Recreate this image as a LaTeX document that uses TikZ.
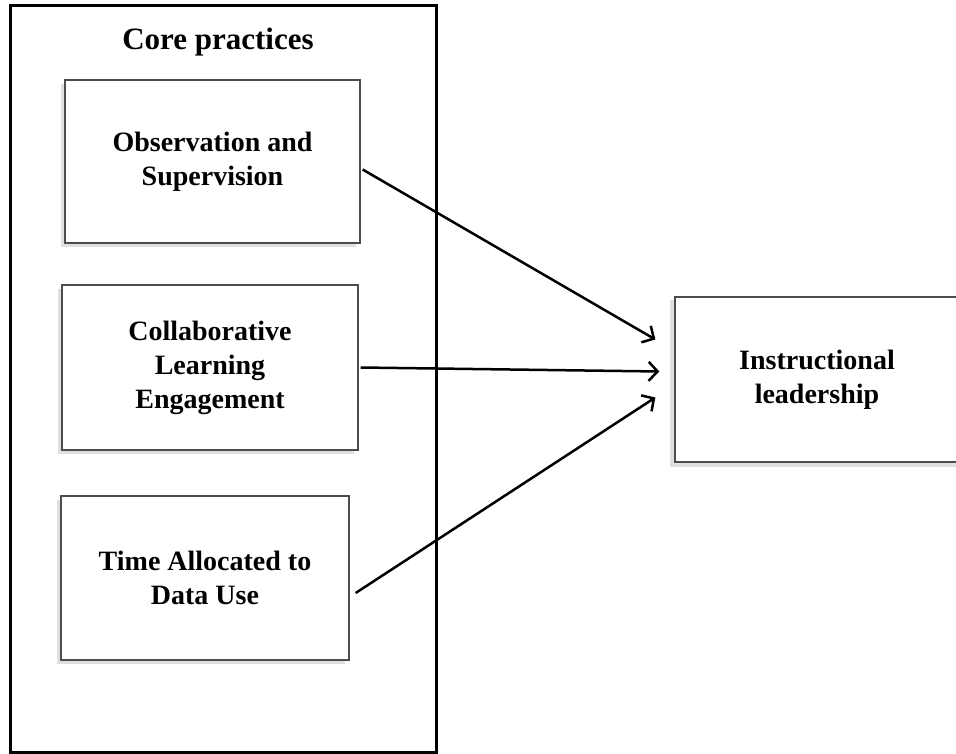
\documentclass[tikz,border=0pt]{standalone}
\usepackage{fontspec}
\setmainfont{Liberation Serif}
\usetikzlibrary{arrows.meta,shadows,backgrounds}
\begin{document}
\begin{tikzpicture}[x=1pt,y=-1pt,
  boxbase/.style={draw=black!70,line width=1.3pt,fill=white,rectangle,inner sep=0pt,
    align=center,font=\bfseries\fontsize{28}{34}\selectfont},
  inbox/.style={boxbase,
    drop shadow={shadow xshift=-4pt,shadow yshift=-4pt,opacity=0.12,fill=black}},
  shade/.style={fill=black,opacity=0.12},
  arr/.style={line width=2.5pt,-{Straight Barb[length=9pt,width=19pt,line width=2.5pt]}}]
\useasboundingbox (0,0) rectangle (956,754);
\node[draw=black,line width=3pt,minimum width=426pt,minimum height=746pt,inner sep=0pt] (core) at (223,379) {};
\node[font=\bfseries\fontsize{31}{37}\selectfont] (title) at (218,42) {Core practices};
\node[inbox,minimum width=295pt,minimum height=163pt] (b1) at (212.5,161.5) {Observation and\\Supervision};
\node[inbox,minimum width=296pt,minimum height=165pt] (b2) at (210,367.5) {Collaborative\\Learning\\Engagement};
\node[inbox,minimum width=288pt,minimum height=164pt] (b3) at (205,578) {Time Allocated to\\Data Use};
\node[boxbase,minimum width=284pt,minimum height=165pt] (il) at (817,379.5) {Instructional\\leadership};
\begin{scope}[on background layer]
\fill[shade] ([xshift=-4pt,yshift=-4pt]il.north west) rectangle ([xshift=8pt,yshift=-4pt]il.south east);
\end{scope}
\draw[arr] ([xshift=2pt,yshift=-8pt]b1.east) -- ([xshift=-19pt,yshift=40pt]il.west);
\draw[arr] ([xshift=2pt,yshift=0pt]b2.east) -- ([xshift=-15pt,yshift=8pt]il.west);
\draw[arr] ([xshift=6pt,yshift=-15pt]b3.east) -- ([xshift=-19pt,yshift=-18pt]il.west);
\end{tikzpicture}
\end{document}
